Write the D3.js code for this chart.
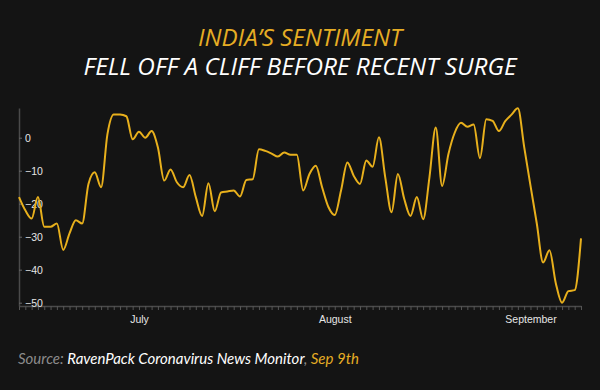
<!DOCTYPE html>
<html>
<head>
<meta charset="utf-8">
<script src="https://cdn.jsdelivr.net/npm/d3@7/dist/d3.min.js"></script>
<style>
  html, body { margin: 0; padding: 0; background: #141414; }
  svg { display: block; }
</style>
</head>
<body>
<svg id="chart" width="600" height="390"></svg>
<script>
// ---- data ----
const startDate = "2020-06-12";
const sentiment = [
  -18, -22, -24.5, -18, -27, -27, -26, -34, -29, -25,
  -26, -14, -10.5, -15, 1, 7, 7, 6.5, -0.5, 1.8,
  0, 2, -3, -13, -9.6, -13.5, -15, -11.3, -18, -23.7,
  -13.8, -22.3, -16.6, -16.3, -16, -17.8, -12.8, -12.6, -3.5, -4,
  -4.8, -5.7, -4.5, -5.2, -5.2, -16, -11, -8.5, -15, -21,
  -23.4, -16, -7.5, -11.5, -14, -6.9, -8.8, 0.1, -12, -22.6,
  -11, -18.5, -23.7, -18, -24.7, -12, 3.1, -14.6, -5, 1.5,
  4.5, 3.3, 4, -6.2, 5.6, 5.1, 2, 5, 7, 8.9,
  -2.8, -14.5, -26, -37.8, -34.1, -44, -50, -46.5, -46.2, -30.5
];
const yTicks = [0, -10, -20, -30, -40, -50];
const monthLabels = ["July", "August", "September"];
const titleLine1 = "INDIA\u2019S SENTIMENT";
const titleLine2 = "FELL OFF A CLIFF BEFORE RECENT SURGE";

const parse = d3.utcParse("%Y-%m-%d");
const t0 = parse(startDate);
const data = sentiment.map((v, i) => ({ date: d3.utcDay.offset(t0, i), value: v }));

// ---- layout ----
const svg = d3.select("#chart");
svg.append("rect").attr("width", 600).attr("height", 390).attr("fill", "#141414");

const x = d3.scaleUtc()
  .domain(d3.extent(data, d => d.date))
  .range([19, 581]);
const y = d3.scaleLinear()
  .domain([-51, 9])
  .range([306, 108]);

// titles
svg.append("text")
  .attr("x", 300).attr("y", 46)
  .attr("text-anchor", "middle")
  .attr("font-family", "'Open Sans', sans-serif")
  .attr("font-style", "italic")
  .attr("font-size", 23)
  .attr("fill", "#e6ad24")
  .attr("textLength", 204).attr("lengthAdjust", "spacingAndGlyphs")
  .text(titleLine1);
svg.append("text")
  .attr("x", 300).attr("y", 75)
  .attr("text-anchor", "middle")
  .attr("font-family", "'Open Sans', sans-serif")
  .attr("font-style", "italic")
  .attr("font-size", 23)
  .attr("fill", "#ffffff")
  .attr("textLength", 433).attr("lengthAdjust", "spacingAndGlyphs")
  .text(titleLine2);

// x axis
const days = d3.utcDay.range(x.domain()[0], d3.utcDay.offset(x.domain()[1], 1));
const monthFmt = d3.utcFormat("%B");
const xAxis = d3.axisBottom(x)
  .tickValues(days)
  .tickSize(4)
  .tickSizeOuter(0)
  .tickPadding(6)
  .tickFormat(d => d.getUTCDate() === 1 && monthLabels.includes(monthFmt(d)) ? monthFmt(d) : "");
const gx = svg.append("g").attr("transform", `translate(0,${y.range()[0]})`).call(xAxis);
gx.select(".domain").attr("stroke", "#4a4a4a").attr("stroke-width", 1.5);
gx.selectAll(".tick line").attr("stroke", "#555");
gx.selectAll(".tick text")
  .attr("fill", "#e6e6e6")
  .attr("font-family", "'Liberation Sans', Arial, sans-serif")
  .attr("font-size", 10.5);

// y axis
const yAxis = d3.axisRight(y)
  .tickValues(yTicks)
  .tickSize(3)
  .tickSizeOuter(0)
  .tickPadding(3)
  .tickFormat(d3.format("d"));
const gy = svg.append("g").attr("transform", `translate(${x.range()[0]},0)`).call(yAxis);
gy.select(".domain").attr("stroke", "#4a4a4a").attr("stroke-width", 1.5);
gy.selectAll(".tick line").attr("stroke", "#666");
gy.selectAll(".tick text")
  .attr("fill", "#e6e6e6")
  .attr("font-family", "'Liberation Sans', Arial, sans-serif")
  .attr("font-size", 10.5);

// line
const line = d3.line()
  .x(d => x(d.date))
  .y(d => y(d.value))
  .curve(d3.curveMonotoneX);
svg.append("path")
  .datum(data)
  .attr("fill", "none")
  .attr("stroke", "#e8b01c")
  .attr("stroke-width", 2)
  .attr("d", line);

// source
const src = svg.append("text")
  .attr("x", 18).attr("y", 364)
  .attr("font-family", "Lato, sans-serif")
  .attr("font-style", "italic")
  .attr("font-size", 15);
src.append("tspan").attr("fill", "#8c8c8c").text("Source: ");
src.append("tspan").attr("fill", "#ffffff").text("RavenPack Coronavirus News Monitor");
src.append("tspan").attr("fill", "#8c8c8c").text(", ");
src.append("tspan").attr("fill", "#e6ad24").text("Sep 9th");
</script>
</body>
</html>
